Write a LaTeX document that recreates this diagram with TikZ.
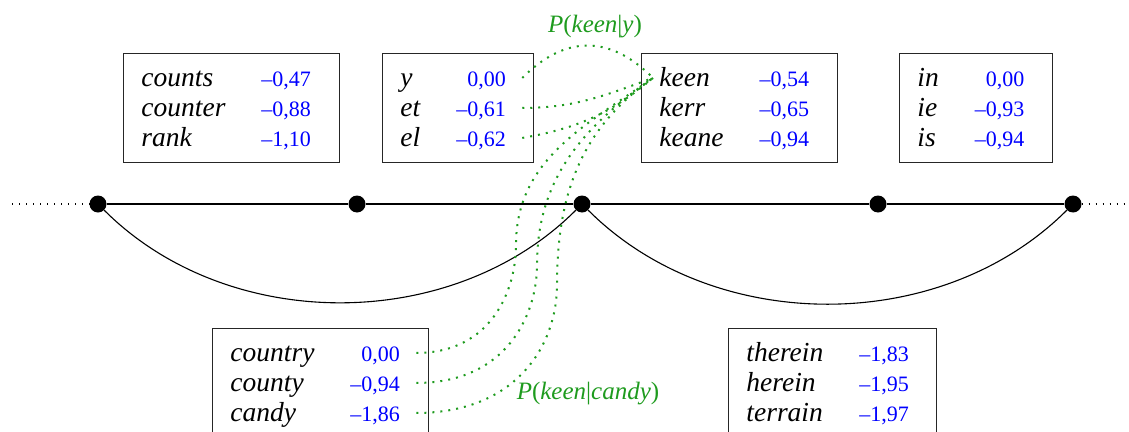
\documentclass[tikz,border=0pt]{standalone}
\usepackage{fontspec}
\setmainfont{Liberation Serif}
\usepackage{tikz}
\usetikzlibrary{matrix}
\definecolor{ScoreBlue}{RGB}{0,0,255}
\definecolor{ProbGreen}{RGB}{30,155,30}

\begin{document}
\begin{tikzpicture}[
    x=1pt,y=-1pt,
    every node/.style={font=\fontsize{27.5}{29}\selectfont},
    cand/.style={matrix of nodes,draw=black!85,line width=0.9pt,anchor=north west,
      inner xsep=12pt,inner ysep=9.5pt,column sep=14pt,row sep=0pt,
      nodes={inner ysep=0pt,text height=24pt,text depth=6pt},
      column 1/.style={nodes={anchor=base west,inner xsep=6pt,font=\fontsize{27.5}{29}\selectfont\itshape}},
      column 2/.style={nodes={anchor=base east,inner xsep=16pt,text=ScoreBlue,font=\fontsize{22}{24}\selectfont}}},
    dot/.style={circle,fill=black,inner sep=0pt,minimum size=17pt},
    trail/.style={line width=1.1pt,dash pattern=on 1.1pt off 5.9pt},
    prob/.style={draw=ProbGreen,line width=2pt,dash pattern=on 2pt off 6pt},
    lbl/.style={text=ProbGreen,font=\fontsize{25}{30}\selectfont}
  ]
  \useasboundingbox (0,0) rectangle (1129,431);

  % lattice
  \foreach \i/\x in {1/98,2/357,3/582,4/878,5/1073}
    \node[dot] (d\i) at (\x,204) {};
  \coordinate (lend) at (12,204);
  \coordinate (rend) at (1129,204);
  \draw[line width=1.1pt] (d1) -- (d2) -- (d3) -- (d4) -- (d5);
  \draw[trail] (lend) -- (d1);
  \draw[trail] (d5) -- (rend);
  \draw[line width=1.1pt] (d1) to[out=-45,in=-135,looseness=0.95] (d3);
  \draw[line width=1.1pt] (d3) to[out=-45,in=-135,looseness=0.95] (d5);

  % candidate lists
  \matrix[cand] (b1) at (123,53) {counts & –0,47 \\ counter & –0,88 \\ rank & –1,10 \\};
  \matrix[cand] (b2) at (382,53) {y & 0,00 \\ et & –0,61 \\ el & –0,62 \\};
  \matrix[cand] (b3) at (641,53) {keen & –0,54 \\ kerr & –0,65 \\ keane & –0,94 \\};
  \matrix[cand] (b4) at (899,53) {in & 0,00 \\ ie & –0,93 \\ is & –0,94 \\};
  \matrix[cand] (b5) at (212,328) {country & 0,00 \\ county & –0,94 \\ candy & –1,86 \\};
  \matrix[cand] (b6) at (728,328) {therein & –1,83 \\ herein & –1,95 \\ terrain & –1,97 \\};

  % transitions into keen
  \coordinate (v1) at (516,245);
  \coordinate (v2) at (537,265);
  \coordinate (v3) at (557,285);
  \draw[prob] (b2-1-2.east) to[out=45,in=135,looseness=1.2] (b3-1-1.west);
  \draw[prob] (b2-2-2.east) to[out=0,in=-160] (b3-1-1.west);
  \draw[prob] (b2-3-2.east) to[out=10,in=-140] (b3-1-1.west);
  \draw[prob] (b5-1-2.east) to[out=0,in=-90,out distance=75pt,in distance=45pt] (v1)
    to[out=90,in=-145] (b3-1-1.west);
  \draw[prob] (b5-2-2.east) to[out=0,in=-90,out distance=90pt,in distance=50pt] (v2)
    to[out=90,in=-145] (b3-1-1.west);
  \draw[prob] (b5-3-2.east) to[out=0,in=-90,out distance=100pt,in distance=60pt] (v3)
    to[out=90,in=-145] (b3-1-1.west);

  \node[lbl] (pky) at (595,27) {\textit{P}(\textit{keen}|\textit{y})};
  \node[lbl] (pkc) at (588,394) {\textit{P}(\textit{keen}|\textit{candy})};
\end{tikzpicture}
\end{document}
